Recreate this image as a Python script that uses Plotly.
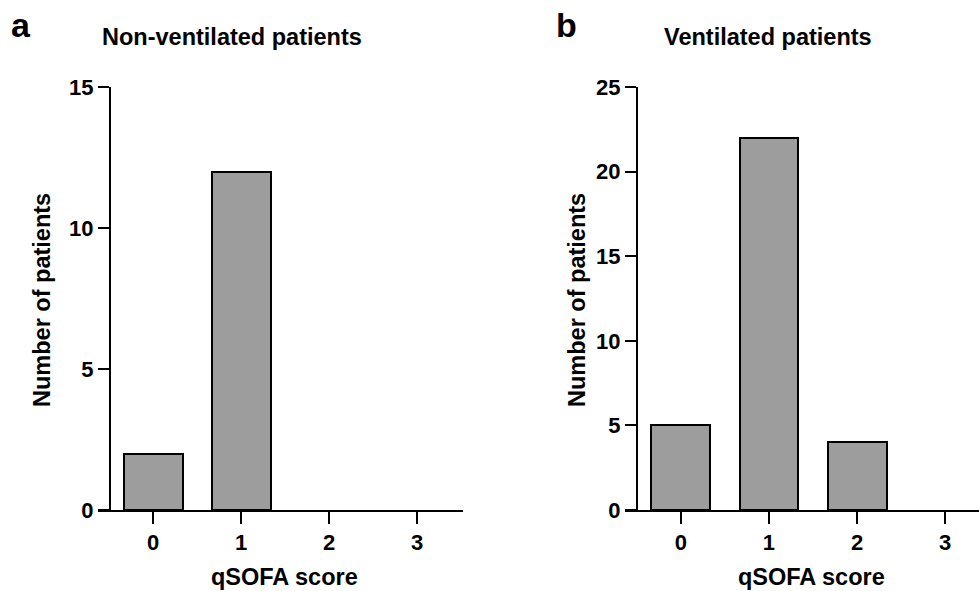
import plotly.graph_objects as go

W, H = 979, 591

scores = [0, 1, 2, 3]
score_labels = ["0", "1", "2", "3"]
non_ventilated = [2, 12, 0, 0]
ventilated = [5, 22, 4, 0]

panel_titles = ["Non-ventilated patients", "Ventilated patients"]
panel_letters = ["a", "b"]
x_title = "qSOFA score"
y_title = "Number of patients"

BAR_COLOR = "#9c9d9c"
FONT = "Liberation Sans, Arial, sans-serif"

def px_x(v):
    return v / W

def px_y(v):
    return 1 - v / H

def outline(vals):
    return [2 if v > 0 else 0 for v in vals]

fig = go.Figure()
fig.add_trace(go.Bar(x=scores, y=non_ventilated, width=0.67, xaxis="x", yaxis="y",
                     marker=dict(color=BAR_COLOR, line=dict(color="black", width=outline(non_ventilated))),
                     showlegend=False))
fig.add_trace(go.Bar(x=scores, y=ventilated, width=0.67, xaxis="x2", yaxis="y2",
                     marker=dict(color=BAR_COLOR, line=dict(color="black", width=outline(ventilated))),
                     showlegend=False))

tickfont = dict(family=FONT, size=22, color="black", weight="bold")
common_x = dict(showline=True, linecolor="black", linewidth=2, ticks="outside",
                ticklen=12, tickwidth=2, tickcolor="black", showgrid=False,
                zeroline=False, tickfont=tickfont, tickmode="array",
                tickvals=scores, ticktext=score_labels, fixedrange=True,
                automargin=False)
common_y = dict(showline=True, linecolor="black", linewidth=2, ticks="outside",
                ticklen=11, tickwidth=2, tickcolor="black", showgrid=False,
                zeroline=False, tickfont=tickfont, fixedrange=True,
                automargin=False)

ydom = [px_y(510), px_y(87)]

fig.update_layout(
    template="none",
    width=W, height=H,
    margin=dict(l=0, r=0, t=0, b=0, autoexpand=False),
    plot_bgcolor="white", paper_bgcolor="white",
    bargap=0,
    xaxis=dict(domain=[px_x(98), px_x(463)], range=[-0.625, 3.52], anchor="y", **common_x),
    yaxis=dict(domain=ydom, range=[0, 15], tickvals=[0, 5, 10, 15], anchor="free",
               position=px_x(110), **common_y),
    xaxis2=dict(domain=[px_x(625), 1.0], range=[-0.636, 3.386], anchor="y2", **common_x),
    yaxis2=dict(domain=ydom, range=[0, 25], tickvals=[0, 5, 10, 15, 20, 25], anchor="free",
                position=px_x(637), **common_y),
)

ann = []
def txt(text, x, y, size, angle=0):
    ann.append(dict(text=text, x=px_x(x), y=px_y(y), xref="paper", yref="paper",
                    xanchor="center", yanchor="middle", showarrow=False, textangle=angle,
                    font=dict(family=FONT, size=size, color="black", weight="bold")))

txt(panel_letters[0], 21, 25, 34)
txt(panel_letters[1], 566, 25, 34)
txt(panel_titles[0], 232, 37, 23.5)
txt(panel_titles[1], 768, 37, 23.5)
txt(x_title, 284, 577, 23.5)
txt(x_title, 811, 577, 23.5)
txt(y_title, 42, 300, 23.5, -90)
txt(y_title, 577, 300, 23.5, -90)
fig.update_layout(annotations=ann)

post = """
var s = document.createElement('style');
s.textContent = 'html,body{margin:0;padding:0;width:979px;height:591px;overflow:hidden;}'
 + '.plotly-graph-div{position:absolute;top:0;left:0;}';
document.head.appendChild(s);
"""
fig.write_html("out.html", config={"displayModeBar": False}, post_script=post)
